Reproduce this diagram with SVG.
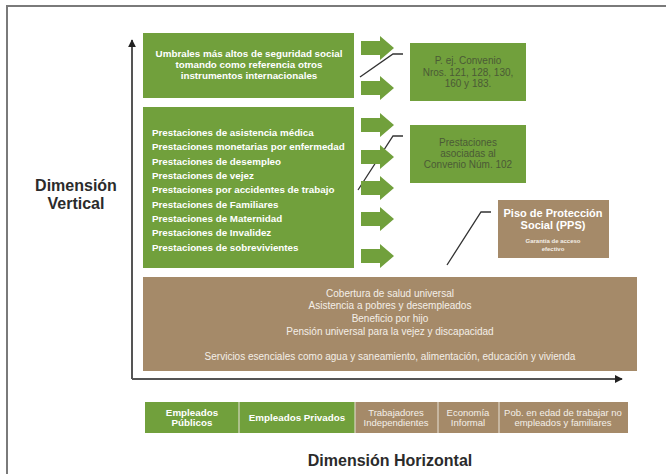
<svg xmlns="http://www.w3.org/2000/svg" xmlns:xlink="http://www.w3.org/1999/xlink" width="666" height="474" viewBox="0 0 666 474">
<style>
.green{fill:#71a03c}
.brown{fill:#a58a69}
.wb{font-family:"Liberation Sans",Arial,sans-serif;font-weight:bold;fill:#ffffff;font-size:9.8px}
.wr{font-family:"Liberation Sans",Arial,sans-serif;fill:#f4efe8;font-size:10px}
.cat{font-size:9.5px}
.dk{font-family:"Liberation Sans",Arial,sans-serif;fill:#4b5a36;font-size:10px}
.title{font-family:"Liberation Sans",Arial,sans-serif;font-weight:bold;fill:#2b2b2b;font-size:16px}
.lead{fill:none;stroke:#333333;stroke-width:1.3}
.axis{fill:none;stroke:#555555;stroke-width:2}
.div{stroke:#e8e2d8;stroke-width:1}
</style>
<defs>
<path id="barrow" d="M0,-7 H19 V-12 L33,0 L19,12 V7 H0 Z" fill="#71a03c"/>
<marker id="ah" viewBox="0 0 10 10" refX="9" refY="5" markerWidth="4" markerHeight="4" orient="auto"><path d="M0,0 L10,5 L0,10 Z" fill="#222222"/></marker>
</defs>
<rect width="666" height="474" fill="#ffffff"/>
<rect x="7" y="6" width="700" height="500" fill="none" stroke="#7a7a7a" stroke-width="2"/>

<g id="connectors">
<line class="axis" x1="132" y1="379" x2="132" y2="40" marker-end="url(#ah)"/>
<line class="axis" x1="132" y1="379" x2="622" y2="379" marker-end="url(#ah)"/>
<polyline class="lead" points="360,77 393,54 403,54"/>
<polyline class="lead" points="358,190 393,136 403,136"/>
<polyline class="lead" points="447,265 481,212 491,212"/>
<g id="block-arrows">
<use xlink:href="#barrow" transform="translate(361,48)"/>
<use xlink:href="#barrow" transform="translate(361,88)"/>
<use xlink:href="#barrow" transform="translate(361,125)"/>
<use xlink:href="#barrow" transform="translate(361,157)"/>
<use xlink:href="#barrow" transform="translate(361,188)"/>
<use xlink:href="#barrow" transform="translate(361,219)"/>
<use xlink:href="#barrow" transform="translate(361,256)"/>
</g>
</g>

<g id="umbrales">
<rect class="green" x="143" y="33" width="211" height="65"/>
<text class="wb" text-anchor="middle" x="249" y="57">Umbrales más altos de seguridad social</text>
<text class="wb" text-anchor="middle" x="249" y="68">tomando como referencia otros</text>
<text class="wb" text-anchor="middle" x="249" y="79">instrumentos internacionales</text>
</g>

<g id="convenio-nros">
<rect class="green" x="410" y="43" width="116" height="58"/>
<text class="dk" text-anchor="middle" x="468" y="64">P. ej. Convenio</text>
<text class="dk" text-anchor="middle" x="468" y="76">Nros. 121, 128, 130,</text>
<text class="dk" text-anchor="middle" x="468" y="87">160 y 183.</text>
</g>

<g id="prestaciones">
<rect class="green" x="143" y="107" width="211" height="161"/>
<text class="wb" x="152" y="136">Prestaciones de asistencia médica</text>
<text class="wb" x="152" y="150">Prestaciones monetarias por enfermedad</text>
<text class="wb" x="152" y="165">Prestaciones de desempleo</text>
<text class="wb" x="152" y="179">Prestaciones de vejez</text>
<text class="wb" x="152" y="193">Prestaciones por accidentes de trabajo</text>
<text class="wb" x="152" y="208">Prestaciones de Familiares</text>
<text class="wb" x="152" y="222">Prestaciones de Maternidad</text>
<text class="wb" x="152" y="236">Prestaciones de Invalidez</text>
<text class="wb" x="152" y="251">Prestaciones de sobrevivientes</text>
</g>

<g id="convenio-102">
<rect class="green" x="410" y="125" width="116" height="58"/>
<text class="dk" text-anchor="middle" x="468" y="146">Prestaciones</text>
<text class="dk" text-anchor="middle" x="468" y="157">asociadas al</text>
<text class="dk" text-anchor="middle" x="468" y="168">Convenio Núm. 102</text>
</g>

<g id="pps">
<rect class="brown" x="498" y="200" width="111" height="58"/>
<text class="wb" style="font-size:11px" text-anchor="middle" x="553" y="217">Piso de Protección</text>
<text class="wb" style="font-size:11px" text-anchor="middle" x="553" y="229">Social (PPS)</text>
<text class="wr" style="font-size:6px;font-weight:bold" text-anchor="middle" x="553" y="243">Garantía de acceso</text>
<text class="wr" style="font-size:6px;font-weight:bold" text-anchor="middle" x="553" y="251">efectivo</text>
</g>

<g id="piso-base">
<rect class="brown" x="143" y="277" width="494" height="94"/>
<text class="wr" text-anchor="middle" x="390" y="297">Cobertura de salud universal</text>
<text class="wr" text-anchor="middle" x="390" y="309">Asistencia a pobres y desempleados</text>
<text class="wr" text-anchor="middle" x="390" y="322">Beneficio por hijo</text>
<text class="wr" text-anchor="middle" x="390" y="335">Pensión universal para la vejez y discapacidad</text>
<text class="wr" text-anchor="middle" x="390" y="360">Servicios esenciales como agua y saneamiento, alimentación, educación y vivienda</text>
</g>

<g id="categorias">
<rect class="green" x="145" y="402" width="210" height="31"/>
<rect class="brown" x="355" y="402" width="273" height="31"/>
<line class="div" x1="239" y1="402" x2="239" y2="433"/>
<line class="div" x1="355" y1="402" x2="355" y2="433"/>
<line class="div" x1="438" y1="402" x2="438" y2="433"/>
<line class="div" x1="499" y1="402" x2="499" y2="433"/>
<text class="wb" text-anchor="middle" x="192" y="416">Empleados</text>
<text class="wb" text-anchor="middle" x="192" y="426">Públicos</text>
<text class="wb" text-anchor="middle" x="297" y="421">Empleados Privados</text>
<text class="wr cat" text-anchor="middle" x="396" y="416">Trabajadores</text>
<text class="wr cat" text-anchor="middle" x="396" y="426">Independientes</text>
<text class="wr cat" text-anchor="middle" x="468" y="416">Economía</text>
<text class="wr cat" text-anchor="middle" x="468" y="426">Informal</text>
<text class="wr cat" text-anchor="middle" x="563" y="416">Pob. en edad de trabajar no</text>
<text class="wr cat" text-anchor="middle" x="563" y="426">empleados y familiares</text>
</g>

<g id="titulos">
<text class="title" text-anchor="middle" x="76" y="191">Dimensión</text>
<text class="title" text-anchor="middle" x="76" y="209">Vertical</text>
<text class="title" text-anchor="middle" x="390" y="466">Dimensión Horizontal</text>
</g>
</svg>
